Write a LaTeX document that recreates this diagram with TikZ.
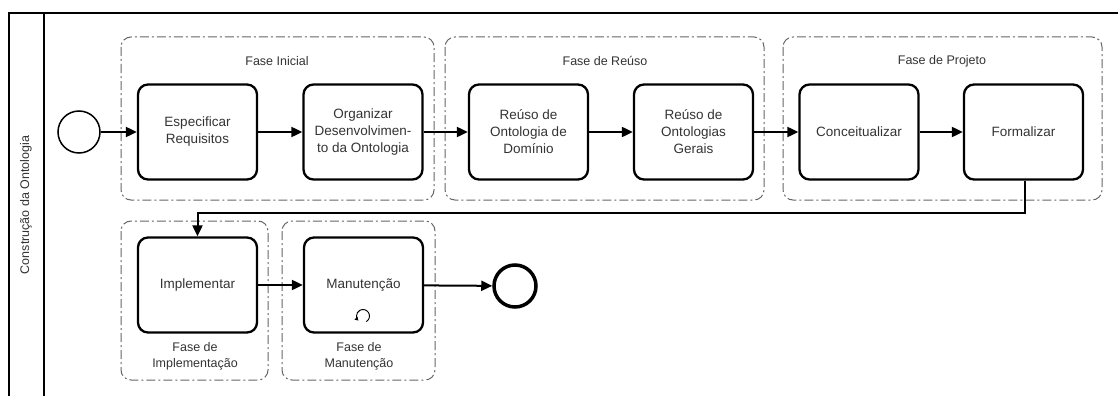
\documentclass[tikz,border=0pt]{standalone}
\usepackage{fontspec}
\setmainfont{Liberation Sans}
\usetikzlibrary{arrows.meta}

\begin{document}
\begin{tikzpicture}[x=1pt, y=-1pt,
		task/.style={draw, line width=2.3pt, rounded corners=10pt, minimum width=119pt, minimum height=95pt, align=center, text=black!80, font=\fontsize{13.5}{17}\selectfont},
		phase/.style={draw=black!60, line width=1pt, rounded corners=10pt, dash pattern=on 9pt off 3pt on 2pt off 3pt},
		phaselabel/.style={text=black!80, align=center, font=\fontsize{12.5}{16}\selectfont},
		flow/.style={line width=2pt, -{Triangle[length=11pt, width=10pt]}},
		pool/.style={line width=2pt}]
	
		\useasboundingbox (0,0) rectangle (1118,396);
	
		%pool and lane
		\draw[pool] (1118,13) -- (9,13) -- (9,396);
		\draw[pool] (44,13) -- (44,396);
		\node[rotate=90, text=black!80, font=\fontsize{12.5}{16}\selectfont] (lane) at (26,205) {Construção da Ontologia};
	
		%phase groups
		\draw[phase] (121,37) rectangle (434,200);
		\draw[phase] (445,37) rectangle (764,200);
		\draw[phase] (783,37) rectangle (1102,200);
		\draw[phase] (121,221) rectangle (268,380);
		\draw[phase] (282,221) rectangle (435,380);
		%phase labels
		\node[phaselabel] (lInicial) at (277,61) {Fase Inicial};
		\node[phaselabel] (lReuso) at (605,61) {Fase de Reúso};
		\node[phaselabel] (lProjeto) at (942,61) {Fase de Projeto};
		\node[phaselabel] (lImplem) at (195,356) {Fase de\\Implementação};
		\node[phaselabel] (lManut) at (359,356) {Fase de\\Manutenção};
	
		%events
		\node[circle, draw, line width=1.5pt, minimum size=42pt, inner sep=0pt] (start) at (79,132) {};
		\node[circle, draw, line width=3.5pt, minimum size=42pt, inner sep=0pt] (end) at (515,286) {};
	
		%tasks
		\node[task] (espec) at (197.5,132) {Especificar\\Requisitos};
		\node[task] (organ) at (363,132) {Organizar\\Desenvolvimen-\\to da Ontologia};
		\node[task] (reusoDom) at (528.5,132) {Reúso de\\Ontologia de\\Domínio};
		\node[task] (reusoGer) at (693.5,132) {Reúso de\\Ontologias\\Gerais};
		\node[task] (conceit) at (859,132) {Conceitualizar};
		\node[task] (formal) at (1023.5,132) {Formalizar};
		\node[task] (implem) at (197.5,285) {Implementar};
		\node[task] (manut) at (363.5,285) {Manutenção};
	
		%loop marker
		\coordinate (loopc) at (363,316);
		\draw[line width=0.9pt, -{Triangle[length=3.5pt, width=4pt]}] (loopc) ++(60:6.5) arc[start angle=60, end angle=-225, radius=6.5];
	
		%sequence flows
		\draw[flow] (start) -- (espec);
		\draw[flow] (espec) -- (organ);
		\draw[flow] (organ) -- (reusoDom);
		\draw[flow] (reusoDom) -- (reusoGer);
		\draw[flow] (reusoGer) -- (conceit);
		\draw[flow] (conceit) -- (formal);
		\coordinate (turn) at (1025,213);
		\draw[flow] (formal.south -| turn) -- (turn) -| (implem.north);
		\draw[flow] (implem) -- (manut);
		\draw[flow] (manut) -- (end);
	
	\end{tikzpicture}
\end{document}
